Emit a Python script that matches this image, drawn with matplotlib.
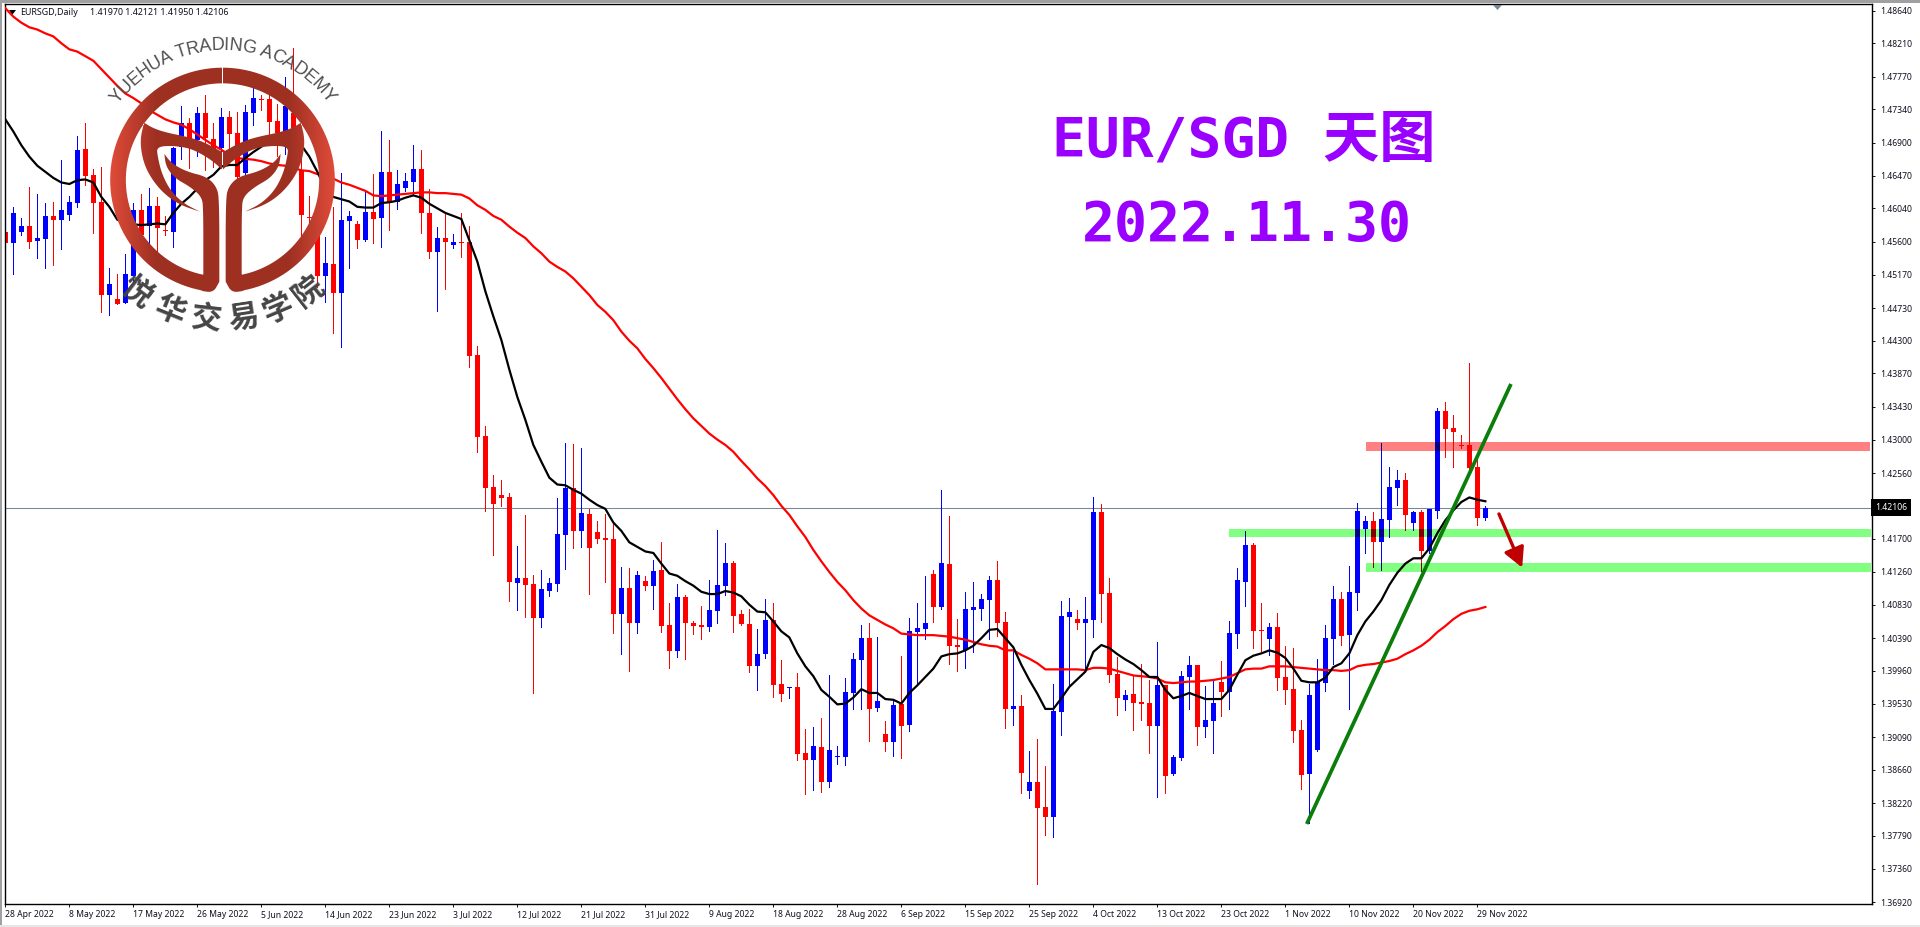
import matplotlib
matplotlib.use("Agg")
import matplotlib.pyplot as plt
import numpy as np
from matplotlib.font_manager import FontProperties
from matplotlib.patches import PathPatch, Rectangle
from matplotlib.path import Path
from matplotlib.textpath import TextToPath

plt.rcParams["font.family"] = ["Noto Sans", "DejaVu Sans"]

# Daily EURSGD candles
opens = [
    1.45725, 1.45589, 1.45734, 1.45808, 1.45615, 1.45641, 1.45939, 1.45891, 1.45957, 1.46115,
    1.46820, 1.46478, 1.46124, 1.44905, 1.44848, 1.44800, 1.45151, 1.46018, 1.45808, 1.46071,
    1.45755, 1.45734, 1.46851, 1.47158, 1.46939, 1.47289, 1.46947, 1.46829, 1.47237, 1.47026,
    1.46500, 1.47298, 1.47478, 1.47473, 1.47184, 1.47061, 1.47289, 1.46544, 1.45922, 1.45712,
    1.45151, 1.45308, 1.44932, 1.45878, 1.45834, 1.45624, 1.45992, 1.45913, 1.46518, 1.46124,
    1.46303, 1.46391, 1.46553, 1.45975, 1.45471, 1.45650, 1.45554, 1.45598, 1.45598, 1.44108,
    1.43048, 1.42377, 1.42272, 1.42246, 1.41115, 1.41181, 1.41102, 1.40655, 1.41010, 1.41102,
    1.41746, 1.42364, 1.41799, 1.42022, 1.41786, 1.41707, 1.41694, 1.40708, 1.41049, 1.40589,
    1.41141, 1.41076, 1.41286, 1.40563, 1.40221, 1.40931, 1.40589, 1.40563, 1.40537, 1.40747,
    1.41076, 1.41378, 1.40708, 1.40576, 1.40024, 1.40182, 1.40629, 1.39787, 1.39739, 1.39748,
    1.38880, 1.38788, 1.38959, 1.38499, 1.38828, 1.38828, 1.39669, 1.40103, 1.40392, 1.39472,
    1.39130, 1.39025, 1.39525, 1.39248, 1.40471, 1.40511, 1.41234, 1.40800, 1.41365, 1.40300,
    1.40234, 1.40760, 1.40773, 1.40892, 1.41155, 1.40603, 1.39459, 1.39498, 1.38381, 1.38499,
    1.38171, 1.38039, 1.39419, 1.40668, 1.40642, 1.40589, 1.40629, 1.42049, 1.40984, 1.39919,
    1.39577, 1.39656, 1.39546, 1.39538, 1.39235, 1.39774, 1.38604, 1.38815, 1.39880, 1.40037,
    1.39222, 1.39301, 1.39814, 1.39682, 1.40445, 1.41128, 1.41615, 1.40497, 1.40379, 1.40537,
    1.39880, 1.39722, 1.39183, 1.38604, 1.38920, 1.39801, 1.40379, 1.40905, 1.40432, 1.40984,
    1.41825, 1.41931, 1.41655, 1.41944, 1.42364, 1.42470, 1.41904, 1.42049, 1.41536, 1.42062,
    1.43377, 1.43153, 1.42925, 1.42930, 1.42640, 1.41970,
]
highs = [
    1.46224, 1.46053, 1.45909, 1.46316, 1.46224, 1.46106, 1.46124, 1.46676, 1.46202, 1.46991,
    1.47158, 1.46553, 1.46579, 1.45251, 1.45177, 1.45436, 1.46106, 1.46224, 1.46303, 1.46194,
    1.45939, 1.46851, 1.47386, 1.47223, 1.47368, 1.47526, 1.47158, 1.47355, 1.47320, 1.47311,
    1.47394, 1.47618, 1.47530, 1.47618, 1.47407, 1.47762, 1.48144, 1.46763, 1.46202, 1.46062,
    1.45659, 1.46053, 1.46509, 1.46010, 1.45878, 1.46259, 1.46492, 1.47057, 1.46939, 1.46544,
    1.46500, 1.46873, 1.46807, 1.46290, 1.45790, 1.45975, 1.45698, 1.45975, 1.45808, 1.44230,
    1.43179, 1.42535, 1.42469, 1.42294, 1.41602, 1.42009, 1.41220, 1.41286, 1.41181, 1.42233,
    1.42960, 1.42942, 1.42890, 1.42088, 1.41930, 1.42022, 1.41900, 1.41326, 1.41312, 1.41273,
    1.41207, 1.41418, 1.41654, 1.40852, 1.41102, 1.40957, 1.40616, 1.40813, 1.41155, 1.41812,
    1.41641, 1.41404, 1.40760, 1.40773, 1.40511, 1.40905, 1.40852, 1.40103, 1.39752, 1.39932,
    1.39196, 1.39222, 1.39340, 1.39906, 1.38972, 1.39866, 1.40195, 1.40563, 1.40585, 1.40405,
    1.39301, 1.39577, 1.40156, 1.40655, 1.40852, 1.41207, 1.41286, 1.42338, 1.41996, 1.40642,
    1.40997, 1.41128, 1.40971, 1.41207, 1.41404, 1.40734, 1.40234, 1.39643, 1.38907, 1.39064,
    1.38709, 1.39787, 1.40879, 1.40918, 1.40760, 1.40931, 1.42246, 1.42154, 1.41181, 1.40147,
    1.39709, 1.39906, 1.40050, 1.39840, 1.40340, 1.39774, 1.38854, 1.39958, 1.40156, 1.40037,
    1.39761, 1.39840, 1.40090, 1.40616, 1.41312, 1.41799, 1.41641, 1.40852, 1.40589, 1.40721,
    1.40287, 1.40261, 1.39314, 1.39787, 1.40116, 1.40563, 1.41076, 1.40997, 1.41339, 1.42163,
    1.41996, 1.42049, 1.42956, 1.42640, 1.42601, 1.42562, 1.42062, 1.42075, 1.42088, 1.43416,
    1.43495, 1.43324, 1.43061, 1.44008, 1.42732, 1.42121,
]
lows = [
    1.45414, 1.45177, 1.45690, 1.45523, 1.45392, 1.45260, 1.45295, 1.45510, 1.45887, 1.46062,
    1.46347, 1.45720, 1.44682, 1.44642, 1.44787, 1.44791, 1.45054, 1.45449, 1.45580, 1.45484,
    1.45690, 1.45536, 1.46684, 1.46575, 1.46733, 1.46544, 1.46588, 1.46676, 1.46829, 1.46325,
    1.46413, 1.47136, 1.47333, 1.47013, 1.46728, 1.46755, 1.46719, 1.45690, 1.45668, 1.45010,
    1.44813, 1.44406, 1.44222, 1.45260, 1.45523, 1.45615, 1.45589, 1.45536, 1.45755, 1.46032,
    1.46272, 1.46216, 1.45720, 1.45392, 1.44691, 1.44975, 1.45514, 1.45405, 1.43954, 1.42841,
    1.42066, 1.41483, 1.42127, 1.40879, 1.40760, 1.40673, 1.39674, 1.40537, 1.40944, 1.41010,
    1.41299, 1.41575, 1.41588, 1.40971, 1.41641, 1.41128, 1.40458, 1.40182, 1.39958, 1.40458,
    1.41023, 1.40773, 1.40471, 1.39998, 1.40142, 1.40116, 1.40445, 1.40379, 1.40484, 1.40589,
    1.40957, 1.40471, 1.40563, 1.39945, 1.39709, 1.40129, 1.39617, 1.39564, 1.39603, 1.38788,
    1.38341, 1.38394, 1.38368, 1.38433, 1.38736, 1.38723, 1.39459, 1.39459, 1.39038, 1.39433,
    1.38907, 1.38841, 1.38815, 1.39170, 1.39774, 1.40379, 1.40603, 1.40773, 1.40050, 1.39958,
    1.39998, 1.40208, 1.40629, 1.40379, 1.40418, 1.39209, 1.39248, 1.38355, 1.38289, 1.37158,
    1.37802, 1.37776, 1.39117, 1.39752, 1.40511, 1.39971, 1.40405, 1.40603, 1.39814, 1.39380,
    1.39446, 1.39183, 1.39314, 1.38880, 1.38302, 1.38355, 1.38591, 1.38788, 1.39459, 1.38986,
    1.39091, 1.38880, 1.39367, 1.39459, 1.40261, 1.40813, 1.40261, 1.40221, 1.40169, 1.39709,
    1.39525, 1.39025, 1.38407, 1.37956, 1.38911, 1.39695, 1.40050, 1.40300, 1.39459, 1.40760,
    1.41510, 1.41326, 1.41286, 1.41720, 1.42141, 1.41812, 1.41812, 1.41273, 1.41506, 1.41970,
    1.42772, 1.42640, 1.42890, 1.42575, 1.41878, 1.41950,
]
closes = [
    1.45589, 1.45975, 1.45808, 1.45602, 1.45650, 1.45939, 1.45891, 1.46018, 1.46124, 1.46807,
    1.46465, 1.46115, 1.44905, 1.45046, 1.44787, 1.45177, 1.46018, 1.45690, 1.46071, 1.45786,
    1.45738, 1.46829, 1.47158, 1.46851, 1.47289, 1.46960, 1.46807, 1.47237, 1.47017, 1.46457,
    1.47302, 1.47486, 1.47469, 1.47180, 1.47035, 1.47386, 1.47092, 1.45953, 1.45909, 1.45151,
    1.45317, 1.44932, 1.45887, 1.45939, 1.45624, 1.45992, 1.45904, 1.46518, 1.46124, 1.46360,
    1.46395, 1.46553, 1.45983, 1.45471, 1.45650, 1.45602, 1.45598, 1.45589, 1.44103, 1.43039,
    1.42368, 1.42158, 1.42237, 1.41128, 1.41181, 1.41089, 1.40655, 1.41036, 1.41115, 1.41759,
    1.42364, 1.41799, 1.42035, 1.41575, 1.41694, 1.41680, 1.40708, 1.41049, 1.40589, 1.41220,
    1.41076, 1.41273, 1.40550, 1.40221, 1.40931, 1.40589, 1.40550, 1.40537, 1.40760, 1.41089,
    1.41378, 1.40681, 1.40576, 1.40024, 1.40182, 1.40629, 1.39774, 1.39656, 1.39748, 1.38867,
    1.38788, 1.38972, 1.38499, 1.38920, 1.38837, 1.39682, 1.40116, 1.40392, 1.39459, 1.39564,
    1.39025, 1.39511, 1.39235, 1.40484, 1.40524, 1.40589, 1.40800, 1.41378, 1.40287, 1.40274,
    1.40773, 1.40800, 1.40905, 1.41155, 1.40589, 1.39459, 1.39498, 1.38617, 1.38499, 1.38157,
    1.38039, 1.39433, 1.40681, 1.40734, 1.40589, 1.40642, 1.42049, 1.40971, 1.39906, 1.39603,
    1.39643, 1.39538, 1.39529, 1.39235, 1.39774, 1.38578, 1.38828, 1.39893, 1.40037, 1.39222,
    1.39314, 1.39538, 1.39682, 1.40458, 1.41155, 1.41615, 1.40484, 1.40484, 1.40537, 1.39866,
    1.39709, 1.39170, 1.38591, 1.39643, 1.39814, 1.40392, 1.40905, 1.40418, 1.40997, 1.42062,
    1.41931, 1.41655, 1.41957, 1.42378, 1.42470, 1.42009, 1.42049, 1.41536, 1.42088, 1.43377,
    1.43140, 1.43101, 1.42917, 1.42627, 1.41970, 1.42106,
]

# Moving averages
ma_fast = [
    1.4721, 1.4705, 1.4687, 1.4672, 1.4660, 1.4652, 1.4644, 1.4638, 1.4636, 1.4641,
    1.4642, 1.4638, 1.4619, 1.4606, 1.4589, 1.4585, 1.4583, 1.4582, 1.4583, 1.4584,
    1.4583, 1.4598, 1.4610, 1.4619, 1.4630, 1.4641, 1.4648, 1.4659, 1.4661, 1.4661,
    1.4670, 1.4678, 1.4685, 1.4692, 1.4698, 1.4700, 1.4696, 1.4687, 1.4672, 1.4652,
    1.4630, 1.4619, 1.4616, 1.4613, 1.4606, 1.4605, 1.4605, 1.4611, 1.4612, 1.4614,
    1.4618, 1.4621, 1.4618, 1.4610, 1.4604, 1.4598, 1.4594, 1.4590, 1.4562, 1.4534,
    1.4495, 1.4462, 1.4431, 1.4392, 1.4356, 1.4326, 1.4293, 1.4271, 1.4250, 1.4241,
    1.4240, 1.4234, 1.4229, 1.4221, 1.4214, 1.4209, 1.4191, 1.4180, 1.4165, 1.4159,
    1.4153, 1.4151, 1.4137, 1.4124, 1.4121, 1.4114, 1.4108, 1.4100, 1.4097, 1.4097,
    1.4101, 1.4099, 1.4094, 1.4083, 1.4074, 1.4073, 1.4061, 1.4048, 1.4040, 1.4019,
    1.4002, 1.3989, 1.3971, 1.3962, 1.3952, 1.3953, 1.3961, 1.3972, 1.3967, 1.3967,
    1.3959, 1.3958, 1.3953, 1.3967, 1.3977, 1.3988, 1.3999, 1.4015, 1.4018, 1.4019,
    1.4023, 1.4029, 1.4039, 1.4050, 1.4051, 1.4039, 1.4027, 1.4004, 1.3984, 1.3966,
    1.3946, 1.3946, 1.3960, 1.3975, 1.3985, 1.3995, 1.4021, 1.4030, 1.4026, 1.4018,
    1.4011, 1.4005, 1.3997, 1.3988, 1.3988, 1.3971, 1.3960, 1.3963, 1.3967, 1.3963,
    1.3959, 1.3959, 1.3959, 1.3971, 1.3991, 1.4010, 1.4016, 1.4019, 1.4023, 1.4020,
    1.4013, 1.3999, 1.3983, 1.3981, 1.3981, 1.3987, 1.4001, 1.4006, 1.4019, 1.4043,
    1.4061, 1.4074, 1.4089, 1.4109, 1.4125, 1.4137, 1.4144, 1.4144, 1.4157, 1.4177,
    1.4194, 1.4207, 1.4218, 1.4224, 1.4221, 1.4219,
]
ma_slow = [
    1.4867, 1.4856, 1.4848, 1.4842, 1.4839, 1.4834, 1.4830, 1.4821, 1.4813, 1.4810,
    1.4804, 1.4798, 1.4787, 1.4776, 1.4765, 1.4755, 1.4749, 1.4742, 1.4733, 1.4727,
    1.4721, 1.4717, 1.4714, 1.4708, 1.4701, 1.4694, 1.4687, 1.4681, 1.4674, 1.4670,
    1.4669, 1.4668, 1.4666, 1.4663, 1.4661, 1.4660, 1.4657, 1.4654, 1.4653, 1.4649,
    1.4648, 1.4643, 1.4638, 1.4635, 1.4631, 1.4627, 1.4621, 1.4620, 1.4621, 1.4622,
    1.4623, 1.4624, 1.4625, 1.4625, 1.4624, 1.4624, 1.4623, 1.4622, 1.4617, 1.4608,
    1.4602, 1.4594, 1.4589, 1.4580, 1.4572, 1.4565, 1.4554, 1.4545, 1.4534, 1.4527,
    1.4521, 1.4512, 1.4501, 1.4490, 1.4477, 1.4468, 1.4457, 1.4442, 1.4430, 1.4420,
    1.4406, 1.4394, 1.4381, 1.4367, 1.4353, 1.4340, 1.4328, 1.4318, 1.4308, 1.4300,
    1.4293, 1.4284, 1.4272, 1.4261, 1.4249, 1.4239, 1.4227, 1.4213, 1.4201, 1.4186,
    1.4172, 1.4155, 1.4140, 1.4126, 1.4113, 1.4102, 1.4089, 1.4078, 1.4069, 1.4063,
    1.4057, 1.4052, 1.4045, 1.4044, 1.4043, 1.4043, 1.4043, 1.4042, 1.4041, 1.4039,
    1.4037, 1.4034, 1.4031, 1.4029, 1.4028, 1.4023, 1.4023, 1.4017, 1.4012, 1.4006,
    1.3998, 1.3998, 1.3998, 1.3998, 1.3998, 1.3997, 1.4000, 1.4000, 1.3999, 1.3996,
    1.3993, 1.3990, 1.3989, 1.3988, 1.3986, 1.3981, 1.3980, 1.3981, 1.3982, 1.3982,
    1.3983, 1.3984, 1.3986, 1.3988, 1.3993, 1.3998, 1.3999, 1.3999, 1.4002, 1.4002,
    1.4002, 1.4001, 1.4000, 1.3999, 1.3998, 1.3997, 1.3997, 1.3996, 1.3997, 1.4002,
    1.4004, 1.4005, 1.4007, 1.4009, 1.4012, 1.4018, 1.4023, 1.4029, 1.4037, 1.4047,
    1.4055, 1.4064, 1.4071, 1.4075, 1.4077, 1.4080,
]

date_labels = [
    "28 Apr 2022", "8 May 2022", "17 May 2022", "26 May 2022", "5 Jun 2022", "14 Jun 2022",
    "23 Jun 2022", "3 Jul 2022", "12 Jul 2022", "21 Jul 2022", "31 Jul 2022", "9 Aug 2022",
    "18 Aug 2022", "28 Aug 2022", "6 Sep 2022", "15 Sep 2022", "25 Sep 2022", "4 Oct 2022",
    "13 Oct 2022", "23 Oct 2022", "1 Nov 2022", "10 Nov 2022", "20 Nov 2022", "29 Nov 2022",
]
price_ticks = [
    1.48640, 1.48210, 1.47770, 1.47340, 1.46900, 1.46470, 1.46040, 1.45600, 1.45170, 1.44730,
    1.44300, 1.43870, 1.43430, 1.43000, 1.42560, 1.41700, 1.41260, 1.40830, 1.40390, 1.39960,
    1.39530, 1.39090, 1.38660, 1.38220, 1.37790, 1.37360, 1.36920,
]
last_price = 1.42106

# Hand drawn zones: start bar, end bar, low, high
resistance_zone = (170.1, 233.1, 1.42855, 1.42969)
support_zone_1 = (152.9, 233.2, 1.41720, 1.41825)
support_zone_2 = (170.1, 233.2, 1.41264, 1.41378)
trend_bars = [162.67, 188.2]
trend_prices = [1.37948, 1.43731]

x = np.arange(len(opens))
o = np.array(opens)
c = np.array(closes)
h = np.array(highs)
l = np.array(lows)
up = c >= o


def draw_candles(ax, up_color, down_color, zorder, clip=None):
    colors = [up_color if u else down_color for u in up]
    wicks = ax.vlines(x, l, h, colors=colors, linewidth=0.6, antialiased=False, zorder=zorder)
    bars = ax.bar(x, np.abs(c - o), width=0.62, bottom=np.minimum(o, c), color=colors,
                  linewidth=0, antialiased=False, zorder=zorder)
    if clip is not None:
        wicks.set_clip_path(clip)
        for b in bars:
            b.set_clip_path(clip)


fig = plt.figure(figsize=(19.2, 9.27), dpi=100, facecolor="white")
ax = fig.add_axes([4.5 / 1920, 1 - 904.3 / 927, (1872 - 4.5) / 1920, (904.3 - 4) / 927])
ax.set_xlim(-0.104, 233.33)
ax.set_ylim(1.36892, 1.48726)

draw_candles(ax, "#0000ff", "#ff0000", 2)

# Zones multiply with the candles under them
for (x0, x1, y0, y1), zone_color, up_mix, down_mix in [
    (resistance_zone, "#ff8080", "#000080", "#ff0000"),
    (support_zone_1, "#80ff80", "#000080", "#800000"),
    (support_zone_2, "#80ff80", "#000080", "#800000"),
]:
    zone = Rectangle((x0, y0), x1 - x0, y1 - y0, facecolor=zone_color, edgecolor="none", zorder=1)
    ax.add_patch(zone)
    draw_candles(ax, up_mix, down_mix, 3, clip=zone)

ax.axhline(last_price, color="#778899", linewidth=0.75, zorder=1.5)
ax.plot(x, ma_slow, color="#ff0000", linewidth=1.6, zorder=4)
ax.plot(x, ma_fast, color="#000000", linewidth=1.6, zorder=4.5)
ax.plot(trend_bars, trend_prices, color="#0a7d0a", linewidth=2.7, zorder=5, solid_capstyle="butt")
ax.annotate("", xy=(189.6, 1.41317), xytext=(186.7, 1.42023), zorder=5,
            arrowprops=dict(arrowstyle="-|>,head_length=0.85,head_width=0.45", color="#c00000",
                            lw=2.4, mutation_scale=14, shrinkA=0, shrinkB=0))

for s in ax.spines.values():
    s.set_linewidth(1.0)
ax.set_xticks(x[::8])
ax.set_xticklabels(date_labels, ha="left", fontsize=6.2)
ax.set_yticks(price_ticks)
ax.set_yticklabels([f"{p:.5f}" for p in price_ticks], fontsize=6.2)
ax.yaxis.tick_right()
ax.tick_params(axis="x", length=2.5, width=0.7, pad=1.5, colors="#101020")
ax.tick_params(axis="y", length=2.5, width=0.7, pad=3.5, colors="#101020")
ax.text(1.0018, last_price, f"{last_price:.5f}", transform=ax.get_yaxis_transform(),
        fontsize=6.2, color="white", va="center", ha="left", zorder=6, clip_on=False,
        bbox=dict(facecolor="black", edgecolor="none", boxstyle="square,pad=0.45"))

# Pixel space overlay for the window furniture, watermark and headline
over = fig.add_axes([0, 0, 1, 1], facecolor="none")
over.set_xlim(0, 1920)
over.set_ylim(927, 0)
over.axis("off")
over.add_patch(Rectangle((0, 0), 1920, 2.5, color="#a0a0a0", linewidth=0))
over.add_patch(Rectangle((0, 0), 2, 927, color="#a0a0a0", linewidth=0))
over.add_patch(Rectangle((0, 924.5), 1920, 2.5, color="#e6e6e6", linewidth=0))
over.fill([9, 16, 12.5], [10, 10, 14.5], color="black", linewidth=0)
over.fill([1493, 1502, 1497.5], [5, 5, 10], color="#778899", linewidth=0)
over.text(20, 12.5, "EURSGD,Daily", fontsize=6.4, color="#101020", va="center")
over.text(90, 12.5, "1.41970 1.42121 1.41950 1.42106", fontsize=6.4, color="#101020", va="center")

title_font = ["DejaVu Sans Mono", "Noto Sans CJK SC"]
over.text(1244, 141, "EUR/SGD 天图", fontsize=40.5, fontweight="bold", family=title_font,
          color="#9900ff", ha="center", va="center")
over.text(1247, 225, "2022.11.30", fontsize=39.5, fontweight="bold", family=title_font,
          color="#9900ff", ha="center", va="center")

# Watermark logo, outline traced in 3x zoom coordinates around the axis x = 667.5
cx, cy = 667.5, 540.0


def arc(r, a0, a1, n=60):
    t = np.radians(np.linspace(a0, a1, n))
    return np.column_stack([cx - r * np.sin(t), cy - r * np.cos(t)])


def smooth(points, rounds=3):
    # corner cutting, end points stay where they are
    pts = np.asarray(points, dtype=float)
    for _ in range(rounds):
        q = 0.75 * pts[:-1] + 0.25 * pts[1:]
        r = 0.25 * pts[:-1] + 0.75 * pts[1:]
        pts = np.vstack([pts[0], np.column_stack([q, r]).reshape(-1, 2), pts[-1]])
    return pts


half_body = np.vstack([
    arc(337, 0, 170),
    smooth([[600, 872], [640, 878], [658, 845]]),
    smooth([[658, 845], [658, 600], [650, 560], [620, 530], [560, 515], [515, 490], [493, 462]]),
    smooth([[493, 462], [498, 500], [525, 535], [570, 560], [605, 590], [610, 625], [610, 825]]),
    arc(290, 169, 0),
])
crown = np.vstack([
    smooth([[432, 368], [460, 385], [500, 398], [560, 410], [610, 425], [668, 457]]),
    smooth([[668, 510], [640, 485], [610, 465], [570, 445], [520, 437], [470, 440],
            [473, 470], [485, 520], [510, 570], [550, 610], [600, 635]]),
    smooth([[600, 635], [540, 615], [490, 580], [450, 530], [428, 480], [420, 420], [432, 368]]),
])


def closed(points):
    codes = [Path.MOVETO] + [Path.LINETO] * (len(points) - 1) + [Path.CLOSEPOLY]
    return Path(np.vstack([points, points[0]]) / 3.0, codes)


def mirror(points):
    return np.column_stack([2 * cx - points[:, 0], points[:, 1]])


logo = Path.make_compound_path(closed(half_body), closed(mirror(half_body)),
                               closed(crown), closed(mirror(crown)))
dx = np.abs(np.linspace(-337, 337, 256))
mix = np.clip((dx - 200) / 137, 0, 1)[None, :, None]
shade = np.array([158, 48, 34]) * (1 - mix) + np.array([224, 76, 58]) * mix
logo_img = over.imshow(shade.astype(np.uint8), extent=((cx - 337) / 3, (cx + 337) / 3, (cy + 340) / 3, (cy - 340) / 3),
                       aspect="auto", zorder=7, interpolation="bilinear")
over.set_xlim(0, 1920)
over.set_ylim(927, 0)
clip = PathPatch(logo, transform=over.transData, facecolor="none", edgecolor="none")
over.add_patch(clip)
logo_img.set_clip_path(clip)

# Curved lettering around the ring
en_text = "YUEHUA TRADING ACADEMY"
en_prop = FontProperties(family="Liberation Sans", size=13)
widths = np.array([TextToPath().get_text_width_height_descent(ch, en_prop, False)[0] for ch in en_text])
mids = np.cumsum(widths) - widths / 2
angles = -54 + 108 * mids / widths.sum()
for ch, a in zip(en_text, angles):
    t = np.radians(a)
    over.text((cx + 403 * np.sin(t)) / 3, (cy - 403 * np.cos(t)) / 3, ch, fontproperties=en_prop,
              color="#505050", rotation=-a, rotation_mode="anchor", ha="center", va="center", zorder=8)

cn_text = "悦华交易学院"
cn_angles = [-37.5, -22, -6.5, 8.5, 23, 38]
for ch, a in zip(cn_text, cn_angles):
    t = np.radians(a)
    over.text((cx + 421 * np.sin(t)) / 3, (cy + 421 * np.cos(t)) / 3, ch, fontsize=22, fontweight="black",
              family=["Noto Sans CJK SC", "DejaVu Sans"], color="#454545", rotation=a, rotation_mode="anchor",
              ha="center", va="center", zorder=8)

fig.savefig("out.png", dpi=100)
